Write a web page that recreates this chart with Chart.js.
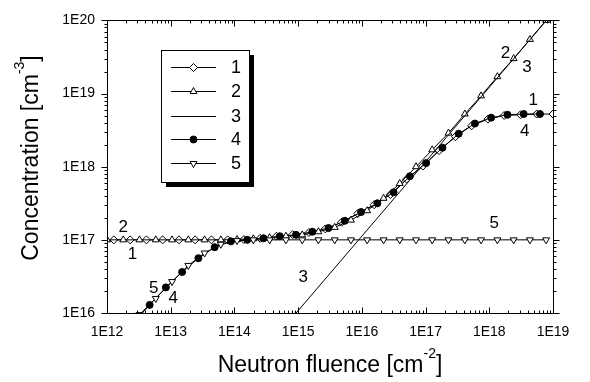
<!DOCTYPE html>
<html>
<head>
<meta charset="utf-8">
<script src="https://cdn.jsdelivr.net/npm/chart.js@4.4.1/dist/chart.umd.min.js"></script>
<style>
  html, body { margin: 0; padding: 0; background: #fff; }
  #wrap { width: 590px; height: 382px; }
</style>
</head>
<body>
<div id="wrap"><canvas id="chart" width="590" height="382"></canvas></div>
<script>
// axis ticks
const xTicks = [1e12, 1e13, 1e14, 1e15, 1e16, 1e17, 1e18, 1e19];
const xTickLabels = ['1E12', '1E13', '1E14', '1E15', '1E16', '1E17', '1E18', '1E19'];
const yTicks = [1e16, 1e17, 1e18, 1e19, 1e20];
const yTickLabels = ['1E16', '1E17', '1E18', '1E19', '1E20'];

// curve 1 (open diamonds)
const fluence1 = [1.28e12, 2.31e12, 4.15e12, 7.47e12, 1.35e13, 2.42e13, 4.36e13, 7.84e13,
  1.41e14, 2.54e14, 4.57e14, 8.23e14, 1.48e15, 2.67e15, 4.80e15, 8.64e15, 1.56e16, 2.80e16,
  5.04e16, 9.07e16, 1.63e17, 2.94e17, 5.29e17, 9.53e17, 1.71e18, 3.09e18, 5.56e18, 1e19];
const conc1 = [1e17, 1e17, 1e17, 1e17, 1e17, 1e17, 1e17, 1e17,
  1.01e17, 1.05e17, 1.12e17, 1.18e17, 1.26e17, 1.41e17, 1.74e17, 2.29e17, 3.02e17, 4.17e17,
  6.76e17, 1.02e18, 1.66e18, 2.57e18, 3.63e18, 4.47e18, 5.01e18, 5.13e18, 5.25e18, 5.25e18];

// curve 2 (open triangles)
const fluence2 = [1e12, 1.8e12, 3.24e12, 5.83e12, 1.05e13, 1.89e13, 3.40e13, 6.12e13,
  1.10e14, 1.98e14, 3.57e14, 6.43e14, 1.16e15, 2.08e15, 3.75e15, 6.75e15, 1.21e16, 2.19e16,
  3.93e16, 7.08e16, 1.27e17, 2.29e17, 4.13e17, 7.43e17, 1.34e18, 2.41e18, 4.34e18, 7.80e18];
const conc2 = [1e17, 1e17, 1e17, 1e17, 1e17, 1e17, 1e17, 1e17,
  1.01e17, 1.035e17, 1.07e17, 1.12e17, 1.17e17, 1.29e17, 1.48e17, 1.86e17, 2.5e17, 3.7e17,
  5.9e17, 1.0e18, 1.70e18, 2.88e18, 5.25e18, 9.3e18, 1.70e19, 3.0e19, 5.5e19, 1.0e20];

// curve 3 (plain line)
const fluence3 = [9.3e14, 7.9e18];
const conc3 = [1e16, 1e20];

// curve 4 (filled circles)
const fluence4 = [2.6e12, 4.67e12, 8.40e12, 1.51e13, 2.72e13, 4.90e13, 8.82e13, 1.59e14,
  2.86e14, 5.14e14, 9.26e14, 1.67e15, 3.00e15, 5.40e15, 9.72e15, 1.75e16, 3.15e16, 5.67e16,
  1.02e17, 1.84e17, 3.31e17, 5.95e17, 1.07e18, 1.93e18, 3.47e18, 6.25e18];
const conc4 = [7.41e15, 1.29e16, 2.24e16, 3.63e16, 5.62e16, 7.94e16, 9.55e16, 1.0e17,
  1.05e17, 1.12e17, 1.17e17, 1.29e17, 1.45e17, 1.82e17, 2.40e17, 3.16e17, 4.47e17, 7.41e17,
  1.12e18, 1.82e18, 2.82e18, 3.89e18, 4.68e18, 5.13e18, 5.25e18, 5.25e18];

// curve 5 (open down triangles)
const fluence5 = [3.24e12, 5.83e12, 1.05e13, 1.89e13, 3.40e13, 6.12e13, 1.10e14, 1.98e14,
  3.57e14, 6.43e14, 1.16e15, 2.08e15, 3.75e15, 6.75e15, 1.21e16, 2.19e16, 3.93e16, 7.08e16,
  1.27e17, 2.29e17, 4.13e17, 7.43e17, 1.34e18, 2.41e18, 4.34e18, 7.80e18];
const conc5 = [9.5e15, 1.58e16, 2.69e16, 4.47e16, 6.61e16, 8.71e16, 9.77e16, 1e17,
  1e17, 1e17, 1e17, 1e17, 1e17, 1e17, 1e17, 1e17, 1e17, 1e17,
  1e17, 1e17, 1e17, 1e17, 1e17, 1e17, 1e17, 1e17];

const seriesNames = ['1', '2', '3', '4', '5'];

// curve numbers written next to the curves (data coordinates)
const curveLabels = [
  { text: '2', x: 1.8e12, y: 1.48e17 },
  { text: '1', x: 2.5e12, y: 6.3e16 },
  { text: '5', x: 5.4e12, y: 2.2e16 },
  { text: '4', x: 1.1e13, y: 1.6e16 },
  { text: '3', x: 1.2e15, y: 3.1e16 },
  { text: '5', x: 1.2e18, y: 1.7e17 },
  { text: '2', x: 1.8e18, y: 3.5e19 },
  { text: '3', x: 3.9e18, y: 2.3e19 },
  { text: '1', x: 4.9e18, y: 8.1e18 },
  { text: '4', x: 3.6e18, y: 3.0e18 }
];

const FONT = '"Liberation Sans", Arial, sans-serif';

function pts(xs, ys) {
  return xs.map((x, i) => ({ x: x, y: ys[i] }));
}

function ds(label, xs, ys, style, rotation, fill) {
  return {
    label: label,
    data: pts(xs, ys),
    borderColor: '#000',
    borderWidth: 1,
    pointStyle: style,
    rotation: rotation,
    pointRadius: style ? 4 : 0,
    pointBackgroundColor: fill,
    pointBorderColor: '#000',
    pointBorderWidth: 1,
    tension: 0,
    clip: 0
  };
}

const datasets = [
  ds(seriesNames[2], fluence3, conc3, false, 0, '#fff'),
  ds(seriesNames[4], fluence5, conc5, 'triangle', 180, '#fff'),
  ds(seriesNames[1], fluence2, conc2, 'triangle', 0, '#fff'),
  ds(seriesNames[3], fluence4, conc4, 'circle', 0, '#000'),
  ds(seriesNames[0], fluence1, conc1, 'rectRot', 0, '#fff')
];
datasets[3].pointRadius = 3.5;

const legendOrder = [4, 2, 0, 3, 1];

function drawTicks(ctx, scale, horizontal, inward, pos) {
  const min = Math.log10(scale.min), max = Math.log10(scale.max);
  ctx.beginPath();
  for (let e = Math.floor(min); e < max + 0.001; e++) {
    for (let m = 1; m <= 9; m++) {
      const v = m * Math.pow(10, e);
      if (v < scale.min * 0.999 || v > scale.max * 1.001) continue;
      const len = m === 1 ? 6 : 3;
      const p = Math.round(scale.getPixelForValue(v)) + 0.5;
      if (horizontal) {
        ctx.moveTo(p, pos);
        ctx.lineTo(p, pos + (inward ? -len : len));
      } else {
        ctx.moveTo(pos, p);
        ctx.lineTo(pos + (inward ? len : -len), p);
      }
    }
  }
  ctx.stroke();
}

function drawSupText(ctx, parts, cx, cy, rotate) {
  // parts: [text, superscript, text]
  ctx.save();
  ctx.translate(cx, cy);
  if (rotate) ctx.rotate(-Math.PI / 2);
  ctx.textBaseline = 'alphabetic';
  ctx.textAlign = 'left';
  const big = '23px ' + FONT, small = '14px ' + FONT;
  ctx.font = big;
  const w0 = ctx.measureText(parts[0]).width;
  const w2 = ctx.measureText(parts[2]).width;
  ctx.font = small;
  const w1 = ctx.measureText(parts[1]).width;
  let x = -(w0 + w1 + w2) / 2;
  ctx.font = big;
  ctx.fillText(parts[0], x, 8);
  x += w0;
  ctx.font = small;
  ctx.fillText(parts[1], x, -6);
  x += w1;
  ctx.font = big;
  ctx.fillText(parts[2], x, 8);
  ctx.restore();
}

const framePlugin = {
  id: 'frame',
  afterDatasetsDraw(chart) {
    const ctx = chart.ctx;
    const a = chart.chartArea;
    const xs = chart.scales.x, ys = chart.scales.y;
    ctx.save();
    ctx.strokeStyle = '#000';
    ctx.lineWidth = 1;
    const l = Math.round(a.left) + 0.5, r = Math.round(a.right) + 0.5;
    const t = Math.round(a.top) + 0.5, b = Math.round(a.bottom) + 0.5;
    ctx.strokeRect(l, t, r - l, b - t);
    drawTicks(ctx, xs, true, true, b);
    drawTicks(ctx, xs, true, false, t);
    drawTicks(ctx, ys, false, false, l);
    drawTicks(ctx, ys, false, true, r);
    // curve numbers
    ctx.fillStyle = '#000';
    ctx.font = '17px ' + FONT;
    ctx.textAlign = 'center';
    ctx.textBaseline = 'middle';
    curveLabels.forEach(c => {
      ctx.fillText(c.text, xs.getPixelForValue(c.x), ys.getPixelForValue(c.y));
    });
    // legend box with shadow
    const bx = 161, by = 50, bw = 88, bh = 132;
    ctx.fillStyle = '#000';
    ctx.fillRect(bx + 5, by + 5, bw, bh);
    ctx.fillStyle = '#fff';
    ctx.fillRect(bx, by, bw, bh);
    ctx.strokeRect(bx + 0.5, by + 0.5, bw, bh);
    const rowsY = [67, 91, 116, 139, 163];
    legendOrder.forEach((di, i) => {
      const d = chart.data.datasets[di];
      const y = rowsY[i] + 0.5;
      ctx.beginPath();
      ctx.moveTo(171, y);
      ctx.lineTo(216, y);
      ctx.stroke();
      if (d.pointStyle) {
        ctx.fillStyle = d.pointBackgroundColor;
        ctx.strokeStyle = '#000';
        Chart.helpers.drawPoint(ctx, {
          pointStyle: d.pointStyle, radius: d.pointRadius,
          rotation: d.rotation, borderWidth: 1
        }, 193.5, y);
      }
      ctx.fillStyle = '#000';
      ctx.font = '18px ' + FONT;
      ctx.textAlign = 'center';
      ctx.textBaseline = 'middle';
      ctx.fillText(d.label, 236, y + 1);
    });
    // axis titles
    ctx.fillStyle = '#000';
    drawSupText(ctx, ['Neutron fluence [cm', '-2', ']'], (a.left + a.right) / 2, 364, false);
    drawSupText(ctx, ['Concentration [cm', '-3', ']'], 30, 158, true);
    ctx.restore();
  }
};

new Chart(document.getElementById('chart'), {
  type: 'line',
  data: { datasets: datasets },
  options: {
    responsive: false,
    animation: false,
    events: [],
    layout: { padding: { left: 0, top: 13, right: 37, bottom: 0 } },
    plugins: { legend: { display: false }, tooltip: { enabled: false } },
    scales: {
      x: {
        type: 'logarithmic', min: 1e12, max: 1e19,
        afterBuildTicks: s => { s.ticks = xTicks.map(v => ({ value: v, major: true })); },
        afterFit: s => { s.height = 69; },
        grid: { display: false, drawTicks: false },
        border: { display: false },
        ticks: {
          callback: (v, i) => xTickLabels[i],
          font: { family: FONT, size: 14 }, color: '#000',
          padding: 11, maxRotation: 0, autoSkip: false
        }
      },
      y: {
        type: 'logarithmic', min: 1e16, max: 1e20,
        afterBuildTicks: s => { s.ticks = yTicks.map(v => ({ value: v, major: true })); },
        afterFit: s => { s.width = 107; },
        grid: { display: false, drawTicks: false },
        border: { display: false },
        ticks: {
          callback: (v, i) => yTickLabels[i],
          font: { family: FONT, size: 14 }, color: '#000',
          padding: 12, autoSkip: false
        }
      }
    }
  },
  plugins: [framePlugin]
});
</script>
</body>
</html>
